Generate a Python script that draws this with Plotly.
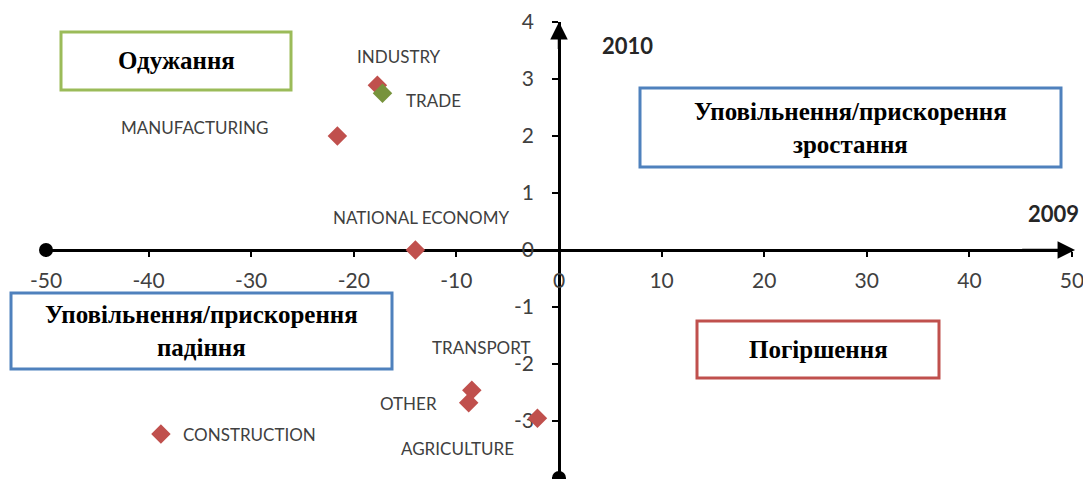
import plotly.graph_objects as go

# ---- data ----
sectors = ["INDUSTRY", "TRADE", "MANUFACTURING", "NATIONAL ECONOMY",
           "TRANSPORT", "OTHER", "AGRICULTURE", "CONSTRUCTION"]
growth_2009 = [-17.7, -17.2, -21.6, -14.0, -8.5, -8.8, -2.1, -38.8]
growth_2010 = [2.89, 2.75, 2.0, 0.0, -2.46, -2.68, -2.95, -3.23]
x_ticks = [-50, -40, -30, -20, -10, 0, 10, 20, 30, 40, 50]
y_ticks = [-4, -3, -2, -1, 0, 1, 2, 3, 4]
x_tick_labels = ["-50", "-40", "-30", "-20", "-10", "0", "10", "20", "30", "40", "50"]
y_tick_labels = ["-4", "-3", "-2", "-1", "0", "1", "2", "3", "4"]
quadrant_texts = ["Одужання",
                  "Уповільнення/прискорення<br>зростання",
                  "Уповільнення/прискорення<br>падіння",
                  "Погіршення"]
axis_titles = ["2009", "2010"]

# ---- styles / layout ----
RED = "#C0504D"
GREEN = "#77933C"
marker_colors = [RED, GREEN, RED, RED, RED, RED, RED, RED]
# label offsets in pixels (dx, dy up)
label_shift = [(22, 29), (51, -7), (-143, 9), (6, 33),
               (10, 43), (-60, -1), (-80, -30), (89, 0)]

OFF = 8  # default page body margin
W, H = 1091 - OFF, 479 - OFF
# plot area in page pixels: x 46..1072, y 22..478
L, T = 46 - OFF, 22 - OFF
R = W - (1072 - OFF)
B = H - (478 - OFF)
PW, PH = W - L - R, H - T - B


def px(xp):
    return (xp - OFF - L) / PW


def py(yp):
    return 1 - (yp - OFF - T) / PH


fig = go.Figure()
fig.add_trace(go.Scatter(
    x=growth_2009, y=growth_2010, mode="markers",
    marker=dict(symbol="diamond", size=15, color=marker_colors),
    cliponaxis=False, showlegend=False, hoverinfo="skip"))

# axis end dots
fig.add_trace(go.Scatter(
    x=[x_ticks[0], 0], y=[0, y_ticks[0]], mode="markers",
    marker=dict(symbol="circle", size=14, color="black"),
    cliponaxis=False, showlegend=False, hoverinfo="skip"))

annotations = []
for name, xv, yv, (dx, dy) in zip(sectors, growth_2009, growth_2010, label_shift):
    annotations.append(dict(x=xv, y=yv, xref="x", yref="y", text=name,
                            showarrow=False, xshift=dx, yshift=dy,
                            xanchor="center", yanchor="middle",
                            font=dict(family="Lato", size=17, color="#404040")))

# arrows at axis ends
annotations.append(dict(x=50.3, y=0, ax=45, ay=0, xref="x", yref="y",
                        axref="x", ayref="y", text="", showarrow=True,
                        arrowhead=2, arrowsize=1.4, arrowwidth=2.5, arrowcolor="black",
                        standoff=0))
annotations.append(dict(x=0, y=4.0, ax=0, ay=3.5, xref="x", yref="y",
                        axref="x", ayref="y", text="", showarrow=True,
                        arrowhead=2, arrowsize=1.4, arrowwidth=2.5, arrowcolor="black",
                        standoff=0))

# axis titles
annotations.append(dict(x=px(1053), y=py(213), xref="paper", yref="paper",
                        xanchor="center", yanchor="middle",
                        text="<b>" + axis_titles[0] + "</b>", showarrow=False,
                        font=dict(family="Lato", size=22, color="#262626")))
annotations.append(dict(x=px(627), y=py(46), xref="paper", yref="paper",
                        xanchor="center", yanchor="middle",
                        text="<b>" + axis_titles[1] + "</b>", showarrow=False,
                        font=dict(family="Lato", size=22, color="#262626")))

boxes = [  # (x0, x1, y0, y1) in page pixels, colour
    ((61, 291, 32, 90), "#9BBB59"),
    ((640, 1061, 88, 167), "#4F81BD"),
    ((11, 392, 293, 369), "#4F81BD"),
    ((697, 939, 321, 378), "#C0504D"),
]
shapes = []
for (txt, ((x0, x1, y0, y1), col)) in zip(quadrant_texts, boxes):
    shapes.append(dict(type="rect", xref="paper", yref="paper",
                       x0=px(x0), x1=px(x1), y0=py(y1), y1=py(y0),
                       line=dict(color=col, width=3), fillcolor="white",
                       layer="below"))
    annotations.append(dict(x=px((x0 + x1) / 2), y=py((y0 + y1) / 2),
                            xref="paper", yref="paper",
                            xanchor="center", yanchor="middle",
                            text="<b>" + txt + "</b>", showarrow=False,
                            align="center",
                            font=dict(family="Liberation Serif", size=25, color="black")))

fig.update_layout(
    width=W, height=H, margin=dict(l=L, r=R, t=T, b=B, autoexpand=False),
    paper_bgcolor="white", plot_bgcolor="white",
    shapes=shapes, annotations=annotations,
    xaxis=dict(range=[x_ticks[0], x_ticks[-1]], tickvals=x_ticks, ticktext=x_tick_labels,
               anchor="free", position=0.5, showline=True, linecolor="black",
               linewidth=2.5, ticks="outside", ticklen=5, tickwidth=2,
               tickcolor="black", showgrid=False, zeroline=False, automargin=False,
               tickfont=dict(family="Lato", size=21, color="#404040"),
               ticklabelstandoff=6, layer="below traces"),
    yaxis=dict(range=[y_ticks[0], y_ticks[-1]], tickvals=y_ticks, ticktext=y_tick_labels,
               anchor="free", position=0.5, showline=True, linecolor="black",
               linewidth=2.5, ticks="outside", ticklen=6, tickwidth=2,
               tickcolor="black", showgrid=False, zeroline=False, automargin=False,
               tickfont=dict(family="Lato", size=21, color="#404040"),
               ticklabelstandoff=14, layer="below traces"),
)

fig.write_html("out.html")
